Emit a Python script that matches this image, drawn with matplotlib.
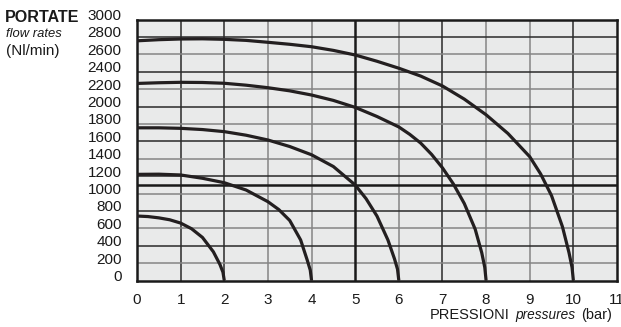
import matplotlib.pyplot as plt
from matplotlib.transforms import ScaledTranslation
from matplotlib.offsetbox import TextArea, HPacker, AnchoredOffsetbox

plt.rcParams['font.family'] = ['Liberation Sans', 'DejaVu Sans']

# curves: pressure (bar) -> flow (Nl/min)
p1 = [0, 0.25, 0.5, 0.75, 1, 1.25, 1.5, 1.75, 1.9, 1.97, 2]
q1 = [741, 735, 720, 698, 660, 595, 495, 330, 185, 95, 0]
p2 = [0, 0.5, 1, 1.5, 2, 2.5, 3, 3.25, 3.5, 3.75, 3.9, 3.97, 4]
q2 = [1220, 1222, 1213, 1175, 1124, 1040, 906, 815, 690, 466, 236, 120, 0]
p3 = [0, 0.5, 1, 1.5, 2, 2.5, 3, 3.5, 4, 4.5, 5, 5.25, 5.5, 5.75, 5.9, 5.97, 6]
q3 = [1755, 1755, 1749, 1735, 1711, 1670, 1615, 1540, 1445, 1310, 1098, 940, 740, 466, 250, 130, 0]
p4 = [0, 0.5, 1, 1.5, 2, 2.5, 3, 3.5, 4, 4.5, 5, 5.5, 6, 6.25, 6.5, 6.75,
      7, 7.25, 7.5, 7.75, 7.9, 7.97, 8]
q4 = [2265, 2273, 2278, 2276, 2267, 2245, 2216, 2180, 2132, 2070, 1990, 1885, 1765, 1680, 1580, 1450,
      1295, 1110, 885, 590, 320, 150, 0]
p5 = [0, 0.5, 1, 1.5, 2, 2.5, 3, 3.5, 4, 4.5, 5, 5.5, 6, 6.5, 7, 7.5, 8, 8.5,
      9, 9.25, 9.5, 9.75, 9.9, 9.97, 10]
q5 = [2755, 2768, 2776, 2778, 2772, 2760, 2738, 2715, 2687, 2645, 2592, 2520, 2440, 2350, 2236, 2085, 1905, 1690,
      1423, 1225, 975, 618, 320, 150, 0]

xticks = list(range(0, 12))
yticks = list(range(0, 3001, 200))
ref_p = 5
ref_q = 1100

fig = plt.figure(figsize=(6.21, 3.27), dpi=100)
ax = fig.add_axes([137/621, 1 - 280.5/327, 480/621, 261/327])
ax.set_facecolor('#e9eaea')
ax.set_xlim(0, 11)
ax.set_ylim(0, 3000)

dark = '#2a2a2a'
gray = '#858585'
vcol = {1: dark, 2: dark, 3: gray, 4: gray, 6: gray, 7: dark, 8: gray, 9: gray, 10: dark}
for x, c in vcol.items():
    ax.axvline(x, color=c, lw=1.1, zorder=1)
for y in yticks[1:-1]:
    c = dark if y % 400 == 0 else gray
    ax.axhline(y, color=c, lw=1.1, zorder=1)

ax.axvline(ref_p, color='#1a1a1a', lw=1.8, zorder=2)
ax.axhline(ref_q, color='#1a1a1a', lw=1.8, zorder=2)

for p, q in [(p1, q1), (p2, q2), (p3, q3), (p4, q4), (p5, q5)]:
    ax.plot(p, q, color='#231f20', lw=2.3, solid_capstyle='butt', solid_joinstyle='round', zorder=3)

for s in ax.spines.values():
    s.set_linewidth(1.8)
    s.set_color('#1a1a1a')

ax.set_xticks(xticks)
ax.set_yticks(yticks)
ax.tick_params(length=0, labelsize=11, colors='#1a1a1a')
ax.tick_params(axis='y', pad=11)
ax.tick_params(axis='x', pad=9)
for lab in ax.get_yticklabels():
    lab.set_transform(lab.get_transform() + ScaledTranslation(0, 0.05, fig.dpi_scale_trans))

fig.text(5/621, 1 - 17/327, 'PORTATE', fontsize=11.6, fontweight='bold', va='center', color='#1a1a1a')
fig.text(6/621, 1 - 34/327, 'flow rates', fontsize=9.4, style='italic', va='center', color='#1a1a1a')
fig.text(6/621, 1 - 51/327, '(Nl/min)', fontsize=11, va='center', color='#1a1a1a')

parts = [
    TextArea('PRESSIONI', textprops=dict(fontsize=10.5, color='#1a1a1a')),
    TextArea('pressures', textprops=dict(fontsize=9.8, style='italic', color='#1a1a1a')),
    TextArea('(bar)', textprops=dict(fontsize=10.5, color='#1a1a1a')),
]
box = HPacker(children=parts, align='baseline', pad=0, sep=4)
anch = AnchoredOffsetbox(loc='center right', child=box, pad=0, borderpad=0, frameon=False,
                         bbox_to_anchor=(612/621, 1 - 315/327), bbox_transform=fig.transFigure)
fig.add_artist(anch)

fig.savefig('out.png', dpi=100)
